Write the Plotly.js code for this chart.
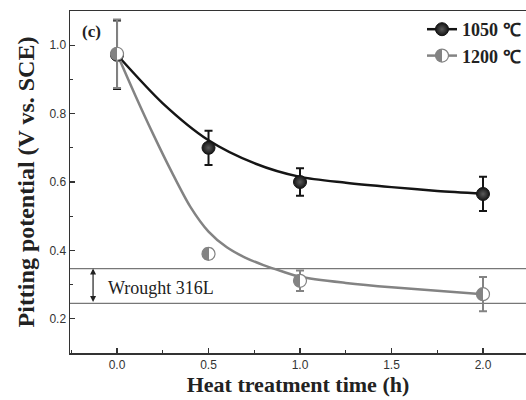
<!DOCTYPE html>
<html>
<head>
<meta charset="utf-8">
<script src="https://cdn.plot.ly/plotly-3.0.1.min.js"></script>
<style>html,body{margin:0;padding:0;background:#fff;}#chart{width:526px;height:400px;}</style>
</head>
<body>
<div id="chart"></div>
<script>
// Measured data points
const timeH = [0.0, 0.5, 1.0, 2.0];
const pot1050 = [0.972, 0.700, 0.600, 0.565];
const err1050 = [0.10, 0.050, 0.040, 0.050];
const pot1200 = [0.975, 0.390, 0.311, 0.272];
const err1200 = [0.10, 0.015, 0.030, 0.050];

// Fitted curves
const fit1050X = [0.0, 0.25, 0.5, 0.75, 1.0, 1.25, 1.5, 1.75, 2.0];
const fit1050Y = [0.972, 0.830, 0.722, 0.655, 0.615, 0.598, 0.585, 0.574, 0.566];
const fit1200X = [0.0, 0.1, 0.2, 0.3, 0.4, 0.5, 0.6, 0.7, 0.8, 0.9, 1.0, 1.25, 1.5, 1.75, 2.0];
const fit1200Y = [0.975, 0.853, 0.737, 0.628, 0.528, 0.455, 0.409, 0.379, 0.357, 0.339, 0.323, 0.305, 0.292, 0.282, 0.272];

// Wrought 316L band
const wroughtBand = [0.245, 0.347];
const wroughtLabel = "Wrought 316L";
const seriesNames = ["1050 \u2103", "1200 \u2103"];
const xTickVals = [0.0, 0.5, 1.0, 1.5, 2.0];
const xTickText = ["0.0", "0.5", "1.0", "1.5", "2.0"];
const yTickVals = [0.2, 0.4, 0.6, 0.8, 1.0];
const yTickText = ["0.2", "0.4", "0.6", "0.8", "1.0"];

const black = "#151515";
const gray = "#838383";
const serif = "Liberation Serif, Times New Roman, serif";
const sans = "Liberation Sans, Arial, sans-serif";

const m1050 = {size: 13, color: black, line: {color: black, width: 1}, gradient: {type: "radial", color: "#5a5a5a"}};
const m1200 = {size: 13, color: gray, line: {color: gray, width: 1.2}, gradient: {type: "horizontal", color: "#ffffff"}};

const traces = [
  {x: fit1050X, y: fit1050Y, mode: "lines", line: {color: black, width: 2.5, shape: "spline", smoothing: 0.8}, showlegend: false, hoverinfo: "skip"},
  {x: fit1200X, y: fit1200Y, mode: "lines", line: {color: gray, width: 2.5, shape: "spline", smoothing: 0.8}, showlegend: false, hoverinfo: "skip"},
  {x: timeH, y: pot1050, mode: "markers", showlegend: false,
   error_y: {type: "data", array: err1050, visible: true, color: black, thickness: 2, width: 4},
   marker: m1050},
  {x: timeH, y: pot1200, mode: "markers", showlegend: false,
   error_y: {type: "data", array: err1200, visible: true, color: gray, thickness: 2, width: 4},
   marker: m1200},
  {x: [null], y: [null], mode: "lines+markers", name: seriesNames[0],
   line: {color: black, width: 2.5}, marker: m1050},
  {x: [null], y: [null], mode: "lines+markers", name: seriesNames[1],
   line: {color: gray, width: 2.5}, marker: m1200}
];

const layout = {
  width: 526, height: 400,
  margin: {l: 70, r: 0, t: 11, b: 47},
  paper_bgcolor: "#fff", plot_bgcolor: "#fff",
  showlegend: true,
  legend: {x: 1.0, xanchor: "right", y: 1.0, yanchor: "top", bgcolor: "rgba(0,0,0,0)",
           font: {family: serif, size: 18, color: "#222", weight: "bold"}, tracegroupgap: 0, itemwidth: 30},
  xaxis: {
    range: [-0.257, 2.235], showgrid: false, zeroline: false,
    showline: true, linecolor: "#333", linewidth: 1.5, mirror: true,
    ticks: "inside", ticklen: 5, tickwidth: 1.3, tickcolor: "#333",
    tickvals: xTickVals, ticktext: xTickText,
    tickfont: {family: sans, size: 12, color: "#333"},
    minor: {dtick: 0.25, ticks: "inside", ticklen: 3, tickwidth: 1.2, tickcolor: "#333", showgrid: false},
    title: {text: "Heat treatment time (h)", font: {family: serif, size: 22, color: "#222", weight: "bold"}, standoff: 4}
  },
  yaxis: {
    range: [0.1, 1.1], showgrid: false, zeroline: false,
    showline: true, linecolor: "#333", linewidth: 1.5, mirror: false,
    ticks: "inside", ticklen: 5, tickwidth: 1.3, tickcolor: "#333",
    tickvals: yTickVals, ticktext: yTickText,
    tickfont: {family: sans, size: 12, color: "#333"},
    minor: {dtick: 0.1, ticks: "inside", ticklen: 3, tickwidth: 1.2, tickcolor: "#333", showgrid: false},
    title: {text: "Pitting potential (V vs. SCE)", font: {family: serif, size: 24, color: "#222", weight: "bold"}, standoff: 8}
  },
  shapes: wroughtBand.map(v => ({type: "line", xref: "paper", x0: 0, x1: 1, yref: "y", y0: v, y1: v,
                                line: {color: "#777", width: 1.3}, layer: "below"})),
  annotations: [
    {x: -0.131, y: wroughtBand[1], ax: -0.131, ay: wroughtBand[0], xref: "x", yref: "y", axref: "x", ayref: "y",
     text: "", showarrow: true, arrowside: "end+start", arrowhead: 2, arrowsize: 1, arrowwidth: 1.2, arrowcolor: "#222"},
    {x: -0.06, y: 0.29, xref: "x", yref: "y", xanchor: "left", yanchor: "middle", showarrow: false,
     text: wroughtLabel, font: {family: serif, size: 18, color: "#222"}},
    {x: 0.022, y: 0.94, xref: "paper", yref: "paper", xanchor: "left", yanchor: "middle", showarrow: false,
     text: "(c)", font: {family: serif, size: 17, color: "#222", weight: "bold"}}
  ]
};

Plotly.newPlot("chart", traces, layout, {displayModeBar: false, staticPlot: true}).then(() => {
  // make the horizontal gradient of the 1200 markers a sharp half/half split
  document.querySelectorAll("#chart linearGradient").forEach(g => {
    while (g.firstChild) g.removeChild(g.firstChild);
    [["0", "#ffffff"], ["0.5", "#ffffff"], ["0.5", gray], ["1", gray]].forEach(([o, c]) => {
      const s = document.createElementNS("http://www.w3.org/2000/svg", "stop");
      s.setAttribute("offset", o);
      s.setAttribute("stop-color", c);
      g.appendChild(s);
    });
  });
});
</script>
</body>
</html>
